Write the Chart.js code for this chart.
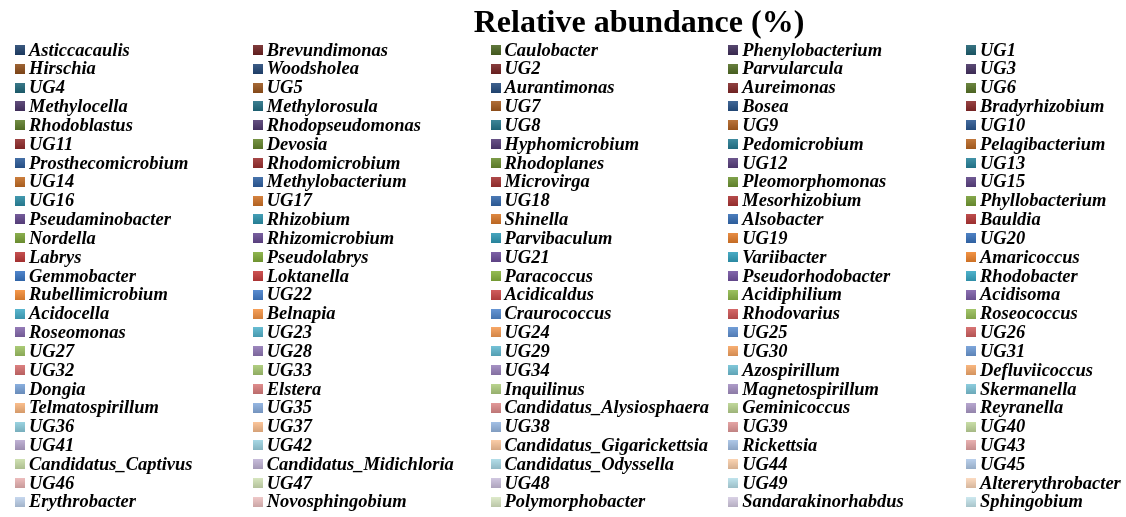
<!DOCTYPE html>
<html>
<head>
<meta charset="utf-8">
<title>Relative abundance</title>
<script src="https://cdn.jsdelivr.net/npm/chart.js@4"></script>
<style>
  html, body { margin: 0; padding: 0; background: #fff; overflow: hidden; }
  #wrap { position: relative; width: 1126px; height: 517px; overflow: hidden; }
  #abundanceChart { position: absolute; left: 0; top: 0; }
  #legend {
    position: absolute; left: 15px; top: 40.6px;
    display: grid;
    grid-template-columns: repeat(5, 237.75px);
    grid-auto-rows: 18.83px;
    font: italic bold 18.5px "Liberation Serif", "Times New Roman", serif;
    color: #000;
  }
  #legend .item { display: flex; align-items: center; white-space: nowrap; cursor: pointer; line-height: 18.83px; }
  #legend .item.off span.txt { text-decoration: line-through; }
  #legend .box { width: 10px; height: 10px; margin-right: 4px; flex: none; }
</style>
</head>
<body>
<div id="wrap">
  <canvas id="abundanceChart" width="1126" height="900"></canvas>
  <div id="legend"></div>
</div>
<script>
// genera in plotting order (stack order, legend reads row by row)
const genera = [
  'Asticcacaulis', 'Brevundimonas', 'Caulobacter', 'Phenylobacterium', 'UG1',
  'Hirschia', 'Woodsholea', 'UG2', 'Parvularcula', 'UG3',
  'UG4', 'UG5', 'Aurantimonas', 'Aureimonas', 'UG6',
  'Methylocella', 'Methylorosula', 'UG7', 'Bosea', 'Bradyrhizobium',
  'Rhodoblastus', 'Rhodopseudomonas', 'UG8', 'UG9', 'UG10',
  'UG11', 'Devosia', 'Hyphomicrobium', 'Pedomicrobium', 'Pelagibacterium',
  'Prosthecomicrobium', 'Rhodomicrobium', 'Rhodoplanes', 'UG12', 'UG13',
  'UG14', 'Methylobacterium', 'Microvirga', 'Pleomorphomonas', 'UG15',
  'UG16', 'UG17', 'UG18', 'Mesorhizobium', 'Phyllobacterium',
  'Pseudaminobacter', 'Rhizobium', 'Shinella', 'Alsobacter', 'Bauldia',
  'Nordella', 'Rhizomicrobium', 'Parvibaculum', 'UG19', 'UG20',
  'Labrys', 'Pseudolabrys', 'UG21', 'Variibacter', 'Amaricoccus',
  'Gemmobacter', 'Loktanella', 'Paracoccus', 'Pseudorhodobacter', 'Rhodobacter',
  'Rubellimicrobium', 'UG22', 'Acidicaldus', 'Acidiphilium', 'Acidisoma',
  'Acidocella', 'Belnapia', 'Craurococcus', 'Rhodovarius', 'Roseococcus',
  'Roseomonas', 'UG23', 'UG24', 'UG25', 'UG26',
  'UG27', 'UG28', 'UG29', 'UG30', 'UG31',
  'UG32', 'UG33', 'UG34', 'Azospirillum', 'Defluviicoccus',
  'Dongia', 'Elstera', 'Inquilinus', 'Magnetospirillum', 'Skermanella',
  'Telmatospirillum', 'UG35', 'Candidatus_Alysiosphaera', 'Geminicoccus', 'Reyranella',
  'UG36', 'UG37', 'UG38', 'UG39', 'UG40',
  'UG41', 'UG42', 'Candidatus_Gigarickettsia', 'Rickettsia', 'UG43',
  'Candidatus_Captivus', 'Candidatus_Midichloria', 'Candidatus_Odyssella', 'UG44', 'UG45',
  'UG46', 'UG47', 'UG48', 'UG49', 'Altererythrobacter',
  'Erythrobacter', 'Novosphingobium', 'Polymorphobacter', 'Sandarakinorhabdus', 'Sphingobium'
];

// samples along the x axis and per-genus abundance (%), one entry per sample
const samples = [];
const abundance = {};

// six office-style hues, cycled; shade goes dark -> full -> pale along the series
const hues = [
  [58, 120, 200], [200, 60, 60], [135, 180, 60],
  [112, 80, 160], [50, 165, 195], [245, 135, 45]
];

function seriesColor(i, n) {
  const base = hues[i % hues.length];
  const t = i / (n - 1);
  if (t < 0.5) {
    const k = 0.55 + 0.45 * t / 0.5;
    return base.map(c => Math.round(c * k));
  }
  const k = 0.72 * (t - 0.5) / 0.5;
  return base.map(c => Math.round(c + (255 - c) * k));
}

const rgb = c => `rgb(${c[0]},${c[1]},${c[2]})`;
const colors = genera.map((g, i) => seriesColor(i, genera.length));

function swatch(c) {
  const top = c.map(v => Math.round(v + (255 - v) * 0.12));
  const bottom = c.map(v => Math.round(v * 0.85));
  return `linear-gradient(${rgb(top)}, ${rgb(bottom)})`;
}

// legend laid out as a fixed 5-column grid in HTML
const htmlLegendPlugin = {
  id: 'htmlLegend',
  afterUpdate(chart, args, options) {
    const box = document.getElementById(options.containerID);
    box.innerHTML = '';
    const items = chart.options.plugins.legend.labels.generateLabels(chart);
    items.forEach(item => {
      const el = document.createElement('div');
      el.className = 'item' + (item.hidden ? ' off' : '');
      el.onclick = () => {
        chart.setDatasetVisibility(item.datasetIndex, !chart.isDatasetVisible(item.datasetIndex));
        chart.update();
      };
      const sw = document.createElement('span');
      sw.className = 'box';
      sw.style.background = swatch(colors[item.datasetIndex]);
      const txt = document.createElement('span');
      txt.className = 'txt';
      txt.textContent = item.text;
      el.appendChild(sw);
      el.appendChild(txt);
      box.appendChild(el);
    });
  }
};

const ctx = document.getElementById('abundanceChart').getContext('2d');
new Chart(ctx, {
  type: 'bar',
  data: {
    labels: samples,
    datasets: genera.map((g, i) => ({
      label: g,
      data: abundance[g] || [],
      backgroundColor: rgb(colors[i]),
      borderWidth: 0
    }))
  },
  options: {
    responsive: false,
    animation: false,
    layout: { padding: { left: 152 } },
    plugins: {
      legend: { display: false },
      tooltip: { enabled: true },
      title: {
        display: true,
        text: 'Relative abundance (%)',
        color: '#000',
        font: { family: 'Liberation Serif', size: 32, weight: 'bold' },
        padding: { top: 5, bottom: 490 }
      },
      htmlLegend: { containerID: 'legend' }
    },
    scales: {
      x: { stacked: true },
      y: { stacked: true, min: 0, max: 100 }
    }
  },
  plugins: [htmlLegendPlugin]
});
</script>
</body>
</html>
